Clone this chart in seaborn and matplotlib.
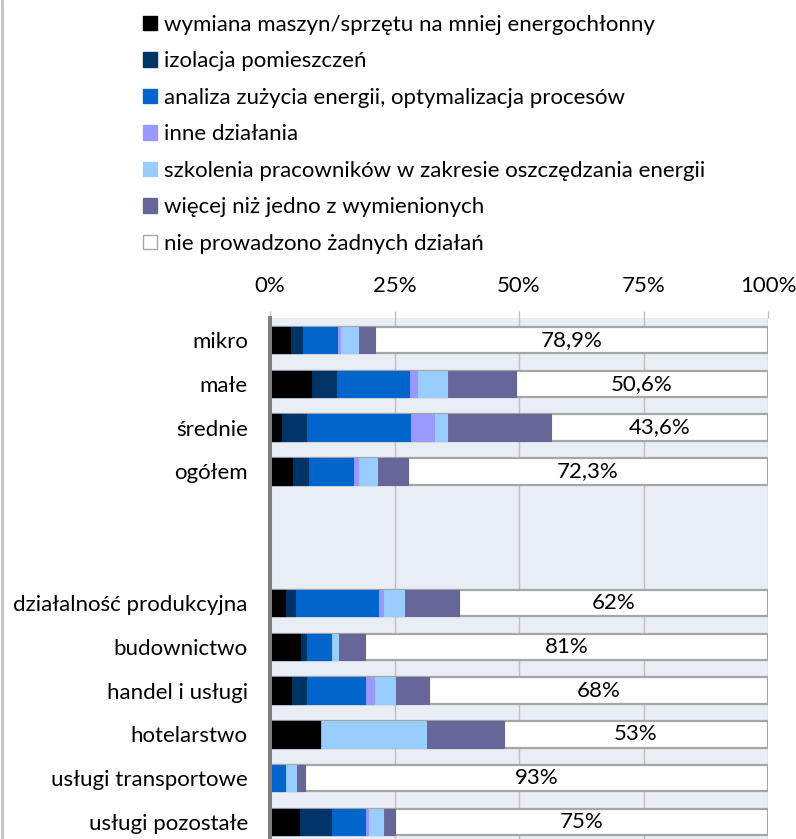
import matplotlib
matplotlib.use("Agg")
import matplotlib.pyplot as plt
import seaborn as sns
import numpy as np
from matplotlib.patches import Patch
from matplotlib.lines import Line2D

# ---------------- data ----------------
categories = ["mikro", "małe", "średnie", "ogółem",
              "działalność produkcyjna", "budownictwo", "handel i usługi",
              "hotelarstwo", "usługi transportowe", "usługi pozostałe"]
slot_order = ["mikro", "małe", "średnie", "ogółem", " ", "  ",
              "działalność produkcyjna", "budownictwo", "handel i usługi",
              "hotelarstwo", "usługi transportowe", "usługi pozostałe"]

series_names = ["wymiana maszyn/sprzętu na mniej energochłonny",
                "izolacja pomieszczeń",
                "analiza zużycia energii, optymalizacja procesów",
                "inne działania",
                "szkolenia pracowników w zakresie oszczędzania energii",
                "więcej niż jedno z wymienionych",
                "nie prowadzono żadnych działań"]

wymiana   = [4.1, 8.3, 2.3, 4.4, 3.0, 6.1, 4.3, 10.1, 0.0, 5.8]
izolacja  = [2.4, 5.0, 5.0, 3.3, 2.1, 1.2, 3.0, 0.0, 0.0, 6.5]
analiza   = [6.9, 14.7, 20.8, 8.9, 16.5, 5.0, 11.8, 0.0, 3.0, 6.7]
inne      = [0.6, 1.5, 4.8, 1.0, 1.1, 0.0, 1.7, 0.0, 0.0, 0.7]
szkolenia = [3.6, 6.0, 2.6, 3.9, 4.2, 1.4, 4.3, 21.2, 2.2, 3.0]
wiecej    = [3.5, 13.9, 20.9, 6.2, 11.1, 5.3, 6.9, 15.7, 1.8, 2.3]
brak      = [78.9, 50.6, 43.6, 72.3, 62.0, 81.0, 68.0, 53.0, 93.0, 75.0]
brak_labels = ["78,9%", "50,6%", "43,6%", "72,3%", "62%", "81%", "68%",
               "53%", "93%", "75%"]

tick_values = [0, 25, 50, 75, 100]
tick_labels = ["0%", "25%", "50%", "75%", "100%"]

colors = ["#000000", "#003366", "#0066CC", "#9999FF", "#99CCFF", "#666699",
          "#FFFFFF"]

# ---------------- style ----------------
sns.set_style("white")
plt.rcParams["font.family"] = ["Lato", "DejaVu Sans"]
FS = 16
LFS = 16
TXT = "#000000"

fig = plt.figure(figsize=(7.96, 8.39), dpi=100)
ax = fig.add_axes([270 / 796, -5 / 839, 498 / 796, 526 / 839])
ax.set_facecolor("#E9EDF4")

layers = [wymiana, izolacja, analiza, inne, szkolenia, wiecej, brak]
cums = np.cumsum(np.array(layers), axis=0)

# full bar (white "no action" part) with grey outline
sns.barplot(x=cums[-1], y=categories, order=slot_order, orient="h",
            color=colors[-1], edgecolor="#A6A6A6", linewidth=1.6,
            width=0.6, saturation=1, errorbar=None, ax=ax)
# stacked coloured segments (drawn from longest cumulative to shortest)
for i in range(5, -1, -1):
    sns.barplot(x=cums[i], y=categories, order=slot_order, orient="h",
                color=colors[i], edgecolor=colors[i], linewidth=0.8,
                width=0.6, saturation=1, errorbar=None, ax=ax)

# value labels centred in the white segment
for cat, val, lab in zip(categories, brak, brak_labels):
    ax.text(100 - val / 2, slot_order.index(cat), lab, ha="center",
            va="center", fontsize=FS, color=TXT)

ax.set_xlim(0, 100)
ax.set_ylim(len(slot_order) - 0.5, -0.5)
ax.set_xlabel("")
ax.set_ylabel("")
ax.xaxis.tick_top()
ax.set_xticks(tick_values)
ax.set_xticklabels(tick_labels)
ax.tick_params(axis="x", length=5, width=1, color="#BFBFBF", pad=11,
               labelsize=FS, labelcolor=TXT)
ax.grid(axis="x", color="#BFBFBF", linewidth=1)
ax.grid(axis="y", visible=False)
ax.set_axisbelow(True)

ax.tick_params(axis="y", which="major", length=0, pad=16, labelsize=FS,
               labelcolor=TXT)
ax.set_yticks(np.arange(-0.5, len(slot_order), 1), minor=True)
ax.tick_params(axis="y", which="minor", length=7, width=2.9,
               color="#808080")
for s in ["top", "right", "bottom"]:
    ax.spines[s].set_visible(False)
ax.spines["left"].set_color("#808080")
ax.spines["left"].set_linewidth(2.9)

# legend
handles = [Patch(facecolor=c, edgecolor=("#A6A6A6" if c == "#FFFFFF" else c),
                 linewidth=1.0) for c in colors]
fig.legend(handles, series_names, loc="upper left",
           bbox_to_anchor=(143 / 796, 1 - 15 / 839), frameon=False,
           fontsize=LFS, handlelength=0.63, handleheight=0.63,
           handletextpad=0.33, labelspacing=0.74, borderpad=0,
           borderaxespad=0, labelcolor=TXT)

# left figure border
fig.add_artist(Line2D([1.5 / 796, 1.5 / 796], [0, 1], color="#C0C0C0",
                      linewidth=2, transform=fig.transFigure))

fig.savefig("out.png", dpi=100)
